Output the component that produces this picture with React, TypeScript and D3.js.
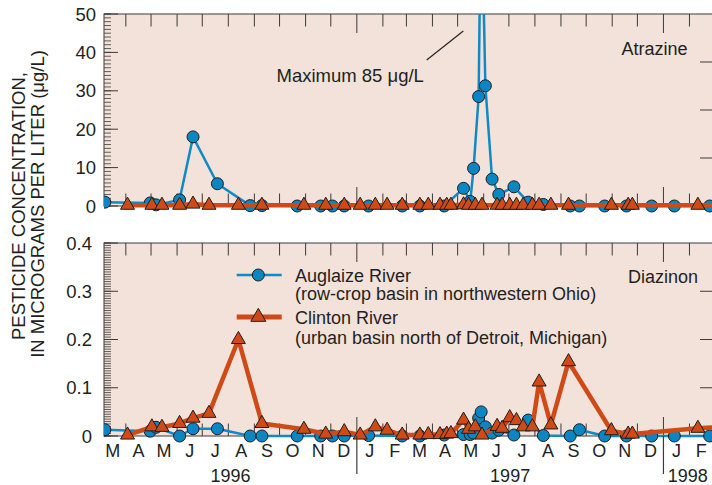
import React from "react";
import * as d3 from "d3";

// ---------- data ----------
const auglaizeDates = ["1996-03-07","1996-04-30","1996-05-07","1996-06-04","1996-06-20","1996-07-19","1996-08-27","1996-09-10","1996-10-22","1996-11-19","1996-12-03","1996-12-17","1997-01-15","1997-02-24","1997-03-17","1997-04-15","1997-05-08","1997-05-16","1997-05-20","1997-05-26","1997-05-29","1997-06-03","1997-06-11","1997-06-19","1997-07-07","1997-07-24","1997-08-11","1997-09-12","1997-09-23","1997-10-23","1997-11-18","1997-12-18","1998-01-14","1998-02-25"];
const auglaizeAtrazine = [1.0,0.8,0.3,1.6,18,5.8,0.1,0.1,0,0,0,0,0,0,0,0,4.6,1.2,9.8,28.5,85,31.3,7,3,5,1,0.4,0,0,0,0,0,0,0];
const auglaizeDiazinon = [0.013,0.01,0.018,0.0,0.015,0.015,0,0,0,0,0,0,0.001,0,0,0.002,0.003,0.003,0.006,0.037,0.05,0.019,0.006,0.012,0.002,0.033,0.001,0,0.013,0,0,0,0,0];

const clintonDates = ["1996-04-03","1996-05-02","1996-05-14","1996-06-04","1996-06-20","1996-07-09","1996-08-13","1996-09-10","1996-10-30","1996-11-25","1996-12-17","1997-01-05","1997-01-23","1997-02-06","1997-02-24","1997-03-17","1997-03-27","1997-04-10","1997-04-18","1997-04-23","1997-05-08","1997-05-14","1997-05-22","1997-05-30","1997-06-17","1997-06-23","1997-07-02","1997-07-10","1997-07-18","1997-07-29","1997-08-06","1997-08-20","1997-09-10","1997-10-31","1997-11-20","1997-11-25","1998-02-11","1998-03-12"];
const clintonAtrazine = [0.2,0.2,0.2,0.2,0.5,0.2,0.2,0.2,0.2,0.2,0.2,0.2,0.2,0.2,0.2,0.2,0.2,0.2,0.2,0.2,0.3,0.2,0.2,0.2,0.2,0.2,0.2,0.2,0.2,0.2,0.2,0.2,0.2,0.2,0.2,0.2,0.2,0.2];
const clintonDiazinon = [0.002,0.019,0.018,0.026,0.037,0.047,0.2,0.026,0.014,0.004,0.009,0.002,0.019,0.012,0.002,0.002,0.003,0.003,0.004,0.005,0.033,0.014,0.019,0.002,0.02,0.016,0.038,0.032,0.019,0.019,0.112,0.023,0.154,0.011,0.004,0.004,0.016,0.019];

const atrazineTicks = [0, 10, 20, 30, 40, 50];
const diazinonTicks = [0, 0.1, 0.2, 0.3, 0.4];
const yearLabels = ["1996", "1997", "1998"];

// ---------- layout ----------
const W = 712, H = 485;
const X0 = 104, X1 = 713;
const FONT = "'Liberation Sans', Arial, Helvetica, sans-serif";
const TEXT = "#231f20";
const BG = "#f3e2da";
const BLUE = "#0f8ac6";
const BLUE_FILL = "#0a86c3";
const ORANGE = "#d04a17";
const MSTROKE = "#1e1e1e";

const parse = d3.timeParse("%Y-%m-%d");
const x = d3.scaleTime().domain([new Date(1996, 2, 6), new Date(1998, 2, 1)]).range([X0, X1]);
const yTop = d3.scaleLinear().domain([0, 50]).range([206, 14]);
const yBot = d3.scaleLinear().domain([0, 0.4]).range([436, 243]);

const aug = auglaizeDates.map((d, i) => ({ d: parse(d) as Date, a: auglaizeAtrazine[i], z: auglaizeDiazinon[i] }));
const cli = clintonDates.map((d, i) => ({ d: parse(d) as Date, a: clintonAtrazine[i], z: clintonDiazinon[i] }));

const monthStarts = d3.timeMonth.range(new Date(1996, 3, 1), new Date(1998, 2, 1));
const allMonths = d3.timeMonth.range(new Date(1996, 2, 1), new Date(1998, 2, 1));
const monthFmt = d3.timeFormat("%B");

function tri(cx: number, cy: number, s = 14) {
  const h = (s * Math.sqrt(3)) / 2;
  return `M${cx},${cy - (2 * h) / 3}L${cx + s / 2},${cy + h / 3}L${cx - s / 2},${cy + h / 3}Z`;
}

function Panel({ y, ticks, minorStep, fmt, labelRight, series, id, title, titleX, titleY }: any) {
  const [yb, yt] = y.range();
  const minor = d3.range(y.domain()[0], y.domain()[1] + minorStep / 2, minorStep);
  const augLine = d3.line<any>().x((d) => x(d.d)).y((d) => y(d[series]));
  const cliLine = d3.line<any>().x((d) => x(d.d)).y((d) => y(d[series]));
  const ymax = y.domain()[1];
  const quarter = [1, 2, 3].map((k) => yb + ((yt - yb) * k) / 4);
  return (
    <g>
      <defs>
        <clipPath id={id}>
          <rect x={X0} y={yt} width={X1 - X0} height={yb - yt + 12} />
        </clipPath>
      </defs>
      <rect x={X0} y={yt} width={X1 - X0} height={yb - yt} fill={BG} stroke="#3a3a3a" strokeWidth={1} />
      {minor.map((v: number, i: number) => (
        <line key={"m" + i} x1={X0} x2={X0 + 7} y1={y(v)} y2={y(v)} stroke="#3a3a3a" strokeWidth={0.8} />
      ))}
      {ticks.map((v: number) => (
        <g key={"t" + v}>
          <line x1={X0} x2={X0 + 14} y1={y(v)} y2={y(v)} stroke="#3a3a3a" strokeWidth={1} />
          <text x={labelRight} y={y(v) + 6.5} textAnchor="end" fontSize={18.5} fill={TEXT} fontFamily={FONT}>{fmt(v)}</text>
        </g>
      ))}
      {quarter.map((q, i) => (
        <line key={"r" + i} x1={X1 - 13} x2={X1} y1={q} y2={q} stroke="#3a3a3a" strokeWidth={1} />
      ))}
      {monthStarts.map((m, i) => {
        const long = m.getMonth() === 0;
        const L = long ? 19 : 12.5;
        return (
          <g key={"mt" + i}>
            <line x1={x(m)} x2={x(m)} y1={yt} y2={yt + L} stroke="#3a3a3a" strokeWidth={1} />
            <line x1={x(m)} x2={x(m)} y1={yb} y2={yb - L} stroke="#3a3a3a" strokeWidth={1} />
          </g>
        );
      })}
      <text x={titleX} y={titleY} fontSize={18} fill={TEXT} fontFamily={FONT}>{title}</text>
      <g clipPath={`url(#${id})`}>
        <path d={augLine(aug) || ""} fill="none" stroke={BLUE} strokeWidth={2.5} strokeLinejoin="round" />
        {aug.filter((d) => d[series] <= ymax).map((d, i) => (
          <circle key={"c" + i} cx={x(d.d)} cy={y(d[series])} r={6} fill={BLUE_FILL} stroke={MSTROKE} strokeWidth={1} />
        ))}
        <path d={cliLine(cli) || ""} fill="none" stroke={ORANGE} strokeWidth={4.5} strokeLinejoin="round" />
        {cli.map((d, i) => (
          <path key={"tr" + i} d={tri(x(d.d), y(d[series]))} fill={ORANGE} stroke={MSTROKE} strokeWidth={1} />
        ))}
      </g>
    </g>
  );
}

export default function App() {
  return (
    <svg width={W} height={H} style={{ display: "block", position: "absolute", left: 0, top: 0, background: "#fff" }}>
      <Panel y={yTop} ticks={atrazineTicks} minorStep={1} fmt={(v: number) => String(v)} labelRight={96}
        series="a" id="clipTop" title="Atrazine" titleX={621.5} titleY={54.5} />
      <Panel y={yBot} ticks={diazinonTicks} minorStep={0.005} fmt={(v: number) => (v === 0 ? "0" : d3.format(".1f")(v))} labelRight={92}
        series="z" id="clipBot" title="Diazinon" titleX={628} titleY={283} />

      <line x1={426.7} y1={60} x2={463.3} y2={31} stroke="#222" strokeWidth={1.2} />
      <text x={276.5} y={81.5} fontSize={18.5} fill={TEXT} fontFamily={FONT}>Maximum 85 μg/L</text>

      <line x1={236.7} x2={281.7} y1={275} y2={275} stroke={BLUE} strokeWidth={2.5} />
      <circle cx={258.3} cy={275} r={6} fill={BLUE_FILL} stroke={MSTROKE} strokeWidth={1} />
      <text x={295} y={281.5} fontSize={18} fill={TEXT} fontFamily={FONT}>Auglaize River</text>
      <text x={295} y={300} fontSize={18} fill={TEXT} fontFamily={FONT}>(row-crop basin in northwestern Ohio)</text>
      <line x1={236.7} x2={281.7} y1={317} y2={317} stroke={ORANGE} strokeWidth={5} />
      <path d={tri(258.3, 317, 15)} fill={ORANGE} stroke={MSTROKE} strokeWidth={1} />
      <text x={295} y={324} fontSize={18} fill={TEXT} fontFamily={FONT}>Clinton River</text>
      <text x={295} y={343.5} fontSize={18} fill={TEXT} fontFamily={FONT}>(urban basin north of Detroit, Michigan)</text>

      {allMonths.map((m, i) => {
        const cx = (x(m) + x(d3.timeMonth.offset(m, 1))) / 2;
        return (
          <text key={"ml" + i} x={cx} y={456.5} textAnchor="middle" fontSize={18} fill={TEXT} fontFamily={FONT}>
            {monthFmt(m)[0]}
          </text>
        );
      })}
      {[new Date(1997, 0, 1), new Date(1998, 0, 1)].map((d, i) => (
        <line key={"ys" + i} x1={x(d)} x2={x(d)} y1={436} y2={474} stroke="#3a3a3a" strokeWidth={1.2} />
      ))}
      {yearLabels.map((yl, i) => {
        const s = i === 0 ? x.domain()[0] : new Date(+yl, 0, 1);
        const e = i === 2 ? x.domain()[1] : new Date(+yl + 1, 0, 1);
        const cx = (x(s) + Math.min(x(e), W)) / 2;
        return (
          <text key={"yl" + i} x={cx} y={481.5} textAnchor="middle" fontSize={18} fill={TEXT} fontFamily={FONT}>{yl}</text>
        );
      })}

      <text transform="translate(25,206) rotate(-90)" textAnchor="middle" fontSize={18.5} fill={TEXT} fontFamily={FONT}>
        PESTICIDE CONCENTRATION,
      </text>
      <text transform="translate(44,204) rotate(-90)" textAnchor="middle" fontSize={18.5} fill={TEXT} fontFamily={FONT}>
        IN MICROGRAMS PER LITER (μg/L)
      </text>
    </svg>
  );
}
